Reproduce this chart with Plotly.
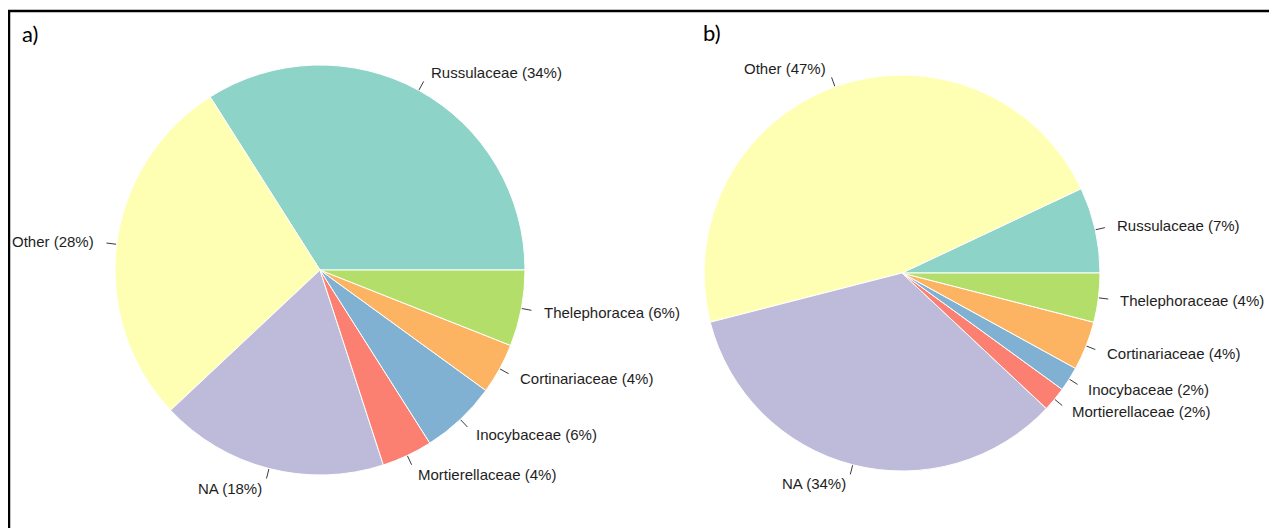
import math
import plotly.graph_objects as go

# Data (percent of reads per family)
families_a = ["Russulaceae", "Other", "NA", "Mortierellaceae", "Inocybaceae",
              "Cortinariaceae", "Thelephoracea"]
share_a = [34, 28, 18, 4, 6, 4, 6]

families_b = ["Russulaceae", "Other", "NA", "Mortierellaceae", "Inocybaceae",
              "Cortinariaceae", "Thelephoraceae"]
share_b = [7, 47, 34, 2, 2, 4, 4]

panel_tags = ["a)", "b)"]

# RColorBrewer Set3
SET3 = ["#8DD3C7", "#FFFFB3", "#BEBADA", "#FB8072", "#80B1D3", "#FDB462", "#B3DE69"]

# Layout (window pixels); the page body adds an 8px margin, so the figure is
# made smaller and every position is shifted by that margin
WIN_W, WIN_H = 1277, 528
OFF = 8
W, H = WIN_W - OFF, WIN_H - OFF
PIES = [
    {"cx": 320, "cy": 270, "r": 205, "ax": ("x", "y")},
    {"cx": 902, "cy": 273, "r": 198, "ax": ("x2", "y2")},
]
K = 1.12  # axis half-span in pie radii
FONT = "Arial, Liberation Sans, sans-serif"


def px(x):
    return (x - OFF) / W


def py(y):
    return 1 - (y - OFF) / H


def pie_domain(p, k):
    x0 = px(p["cx"] - k * p["r"])
    x1 = px(p["cx"] + k * p["r"])
    y0 = py(p["cy"] + k * p["r"])
    y1 = py(p["cy"] - k * p["r"])
    return [x0, x1], [y0, y1]


def mid_angles(values):
    # R pie(): starts at 3 o'clock, counterclockwise
    total = sum(values)
    out, acc = [], 0
    for v in values:
        out.append(2 * math.pi * (acc + v / 2) / total)
        acc += v
    return out


fig = go.Figure()
annotations = []

for p, names, vals in zip(PIES, [families_a, families_b], [share_a, share_b]):
    dx, dy = pie_domain(p, 1.0)
    # plotly's counterclockwise pies end the first slice at `rotation`,
    # so turn it back by the first slice to start at 3 o'clock
    rot = 90 - 360 * vals[0] / sum(vals)
    fig.add_trace(go.Pie(
        labels=names,
        values=vals,
        sort=False,
        direction="counterclockwise",
        rotation=rot,
        textinfo="none",
        hoverinfo="label+value",
        marker=dict(colors=SET3, line=dict(color="white", width=1)),
        domain=dict(x=dx, y=dy),
        showlegend=False,
    ))

    # small ticks from the rim to 1.05 r, labels at 1.1 r
    xs, ys = [], []
    xref, yref = p["ax"]
    for name, v, a in zip(names, vals, mid_angles(vals)):
        c, s = math.cos(a), math.sin(a)
        xs += [c, 1.05 * c, None]
        ys += [s, 1.05 * s, None]
        annotations.append(dict(
            x=1.1 * c, y=1.1 * s, xref=xref, yref=yref,
            text=f"{name} ({v}%)", showarrow=False,
            xanchor="left" if c >= 0 else "right", yanchor="middle",
            font=dict(family=FONT, size=15, color="#1e1e1e"),
        ))
    fig.add_trace(go.Scatter(
        x=xs, y=ys, mode="lines", xaxis=xref, yaxis=yref,
        line=dict(color="#3a3a3a", width=1), hoverinfo="skip", showlegend=False,
    ))

# axes sized so one unit equals the pie radius
axes = {}
for i, p in enumerate(PIES):
    dx, dy = pie_domain(p, K)
    sfx = "" if i == 0 else str(i + 1)
    axes["xaxis" + sfx] = dict(domain=dx, range=[-K, K], visible=False,
                               fixedrange=True, anchor="y" + sfx)
    axes["yaxis" + sfx] = dict(domain=dy, range=[-K, K], visible=False,
                               fixedrange=True, anchor="x" + sfx)

# panel letters
for tag, tx, ty in zip(panel_tags, [20, 701], [33, 32]):
    annotations.append(dict(
        x=px(tx), y=py(ty), xref="paper", yref="paper", text=tag,
        showarrow=False, xanchor="left", yanchor="middle",
        font=dict(family="Lato, Open Sans, sans-serif", size=22, color="black"),
    ))

fig.update_layout(
    width=W, height=H,
    margin=dict(l=0, r=0, t=0, b=0),
    paper_bgcolor="white", plot_bgcolor="white",
    showlegend=False,
    annotations=annotations,
    shapes=[
        dict(type="line", xref="paper", yref="paper",
             x0=0, x1=1, y0=py(11), y1=py(11),
             line=dict(color="black", width=2.5)),
        dict(type="line", xref="paper", yref="paper",
             x0=px(9), x1=px(9), y0=0, y1=py(11),
             line=dict(color="black", width=2.5)),
    ],
    **axes,
)

fig.write_html("out.html")
